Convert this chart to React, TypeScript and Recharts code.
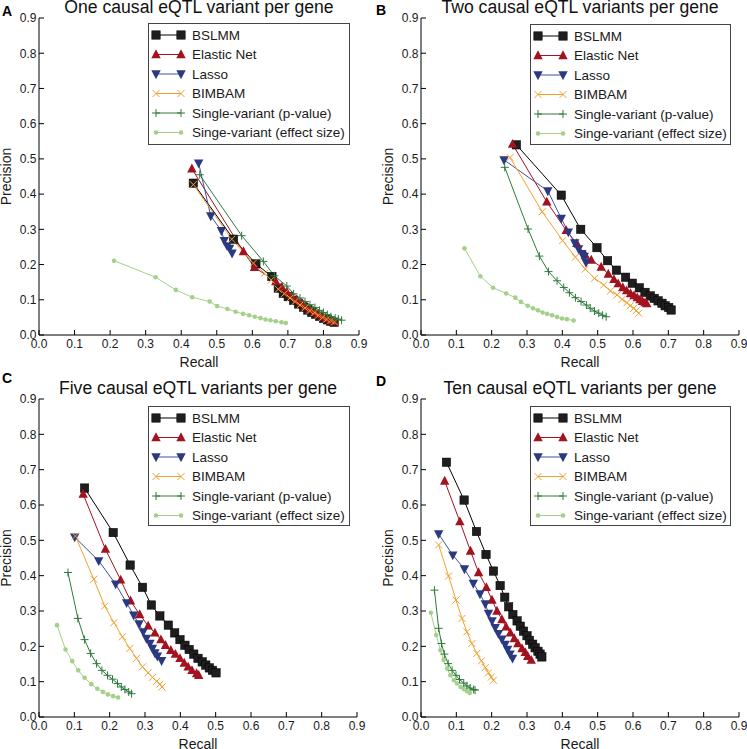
import React from 'react';
import { LineChart, Line, XAxis, YAxis } from 'recharts';

type Pt = [number, number];

// [recall, precision]
const A_BSLMM: Pt[] = [[0.434, 0.431], [0.547, 0.272], [0.610, 0.202], [0.655, 0.166], [0.673, 0.133], [0.687, 0.118], [0.701, 0.109], [0.716, 0.098], [0.730, 0.088], [0.744, 0.079], [0.756, 0.071], [0.767, 0.064], [0.778, 0.059], [0.789, 0.053], [0.800, 0.047], [0.811, 0.043], [0.821, 0.039], [0.830, 0.036]];
const A_ENET: Pt[] = [[0.430, 0.472], [0.575, 0.237], [0.606, 0.192], [0.666, 0.152], [0.683, 0.136], [0.697, 0.123], [0.711, 0.111], [0.725, 0.100], [0.739, 0.090], [0.750, 0.081], [0.762, 0.073], [0.775, 0.065], [0.786, 0.059], [0.797, 0.052], [0.809, 0.046], [0.821, 0.042], [0.830, 0.038]];
const A_LASSO: Pt[] = [[0.449, 0.488], [0.483, 0.338], [0.513, 0.296], [0.521, 0.268], [0.529, 0.253], [0.536, 0.246], [0.543, 0.232]];
const A_BIMBAM: Pt[] = [[0.434, 0.427], [0.542, 0.272], [0.603, 0.204], [0.634, 0.175], [0.653, 0.156], [0.673, 0.130], [0.690, 0.117], [0.706, 0.105], [0.720, 0.095], [0.734, 0.085], [0.748, 0.077], [0.762, 0.069], [0.775, 0.063], [0.786, 0.056], [0.798, 0.050], [0.809, 0.045], [0.821, 0.041], [0.831, 0.037]];
const A_PVAL: Pt[] = [[0.452, 0.455], [0.570, 0.282], [0.631, 0.209], [0.662, 0.168], [0.697, 0.139], [0.716, 0.117], [0.734, 0.105], [0.748, 0.095], [0.762, 0.086], [0.776, 0.078], [0.789, 0.070], [0.800, 0.064], [0.811, 0.058], [0.821, 0.052], [0.833, 0.048], [0.842, 0.045], [0.851, 0.042]];
const A_EFFECT: Pt[] = [[0.211, 0.211], [0.328, 0.164], [0.385, 0.128], [0.431, 0.107], [0.480, 0.095], [0.501, 0.082], [0.530, 0.074], [0.553, 0.066], [0.574, 0.060], [0.591, 0.056], [0.607, 0.052], [0.623, 0.048], [0.637, 0.044], [0.651, 0.042], [0.666, 0.039], [0.682, 0.036], [0.694, 0.034]];

const B_BSLMM: Pt[] = [[0.270, 0.540], [0.397, 0.397], [0.452, 0.300], [0.498, 0.248], [0.528, 0.211], [0.553, 0.184], [0.579, 0.164], [0.598, 0.147], [0.618, 0.134], [0.634, 0.121], [0.649, 0.111], [0.660, 0.104], [0.671, 0.097], [0.682, 0.090], [0.691, 0.083], [0.701, 0.078], [0.708, 0.071]];
const B_ENET: Pt[] = [[0.259, 0.542], [0.356, 0.378], [0.411, 0.297], [0.441, 0.260], [0.465, 0.227], [0.482, 0.213], [0.510, 0.193], [0.530, 0.173], [0.546, 0.158], [0.558, 0.146], [0.571, 0.135], [0.582, 0.126], [0.593, 0.118], [0.603, 0.112], [0.612, 0.106], [0.620, 0.101], [0.627, 0.096], [0.634, 0.092], [0.639, 0.089]];
const B_LASSO: Pt[] = [[0.235, 0.497], [0.359, 0.409], [0.397, 0.331], [0.417, 0.292], [0.435, 0.261], [0.446, 0.244], [0.455, 0.231], [0.462, 0.223], [0.467, 0.206]];
const B_BIMBAM: Pt[] = [[0.252, 0.504], [0.343, 0.350], [0.401, 0.268], [0.437, 0.221], [0.465, 0.187], [0.491, 0.161], [0.517, 0.142], [0.536, 0.125], [0.555, 0.114], [0.569, 0.101], [0.583, 0.092], [0.592, 0.083], [0.602, 0.076], [0.609, 0.069], [0.616, 0.062]];
const B_PVAL: Pt[] = [[0.237, 0.476], [0.303, 0.301], [0.335, 0.224], [0.361, 0.180], [0.385, 0.154], [0.404, 0.135], [0.420, 0.120], [0.437, 0.106], [0.453, 0.095], [0.468, 0.085], [0.479, 0.076], [0.491, 0.068], [0.503, 0.062], [0.514, 0.056], [0.524, 0.052]];
const B_EFFECT: Pt[] = [[0.123, 0.246], [0.168, 0.167], [0.204, 0.134], [0.241, 0.118], [0.267, 0.106], [0.283, 0.094], [0.302, 0.083], [0.317, 0.076], [0.331, 0.070], [0.344, 0.064], [0.357, 0.060], [0.371, 0.056], [0.385, 0.051], [0.399, 0.047], [0.413, 0.045], [0.432, 0.041]];

const C_BSLMM: Pt[] = [[0.129, 0.648], [0.210, 0.522], [0.258, 0.430], [0.293, 0.367], [0.318, 0.317], [0.342, 0.286], [0.366, 0.260], [0.384, 0.238], [0.399, 0.219], [0.413, 0.203], [0.425, 0.191], [0.438, 0.178], [0.450, 0.166], [0.462, 0.156], [0.472, 0.147], [0.482, 0.139], [0.491, 0.132], [0.501, 0.125]];
const C_ENET: Pt[] = [[0.125, 0.631], [0.188, 0.475], [0.231, 0.388], [0.259, 0.329], [0.285, 0.290], [0.309, 0.258], [0.328, 0.238], [0.345, 0.219], [0.358, 0.203], [0.373, 0.189], [0.386, 0.178], [0.399, 0.166], [0.411, 0.153], [0.422, 0.142], [0.433, 0.132], [0.446, 0.123], [0.452, 0.118]];
const C_LASSO: Pt[] = [[0.101, 0.509], [0.169, 0.442], [0.217, 0.376], [0.248, 0.323], [0.268, 0.288], [0.283, 0.263], [0.295, 0.241], [0.304, 0.222], [0.314, 0.208], [0.321, 0.194], [0.328, 0.181], [0.335, 0.172], [0.347, 0.159]];
const C_BIMBAM: Pt[] = [[0.103, 0.512], [0.155, 0.390], [0.186, 0.314], [0.212, 0.267], [0.236, 0.227], [0.257, 0.194], [0.276, 0.166], [0.293, 0.142], [0.309, 0.125], [0.321, 0.112], [0.333, 0.101], [0.342, 0.093], [0.348, 0.085]];
const C_PVAL: Pt[] = [[0.082, 0.409], [0.110, 0.279], [0.129, 0.219], [0.146, 0.180], [0.163, 0.151], [0.178, 0.132], [0.194, 0.118], [0.208, 0.107], [0.222, 0.095], [0.233, 0.085], [0.243, 0.078], [0.254, 0.071], [0.262, 0.066]];
const C_EFFECT: Pt[] = [[0.051, 0.260], [0.075, 0.191], [0.094, 0.158], [0.111, 0.132], [0.129, 0.111], [0.148, 0.093], [0.165, 0.080], [0.181, 0.071], [0.195, 0.064], [0.210, 0.059], [0.224, 0.055]];

const D_BSLMM: Pt[] = [[0.072, 0.721], [0.122, 0.614], [0.157, 0.525], [0.184, 0.460], [0.205, 0.413], [0.224, 0.372], [0.237, 0.339], [0.248, 0.312], [0.260, 0.290], [0.272, 0.272], [0.281, 0.257], [0.290, 0.243], [0.300, 0.230], [0.307, 0.217], [0.316, 0.206], [0.323, 0.196], [0.331, 0.186], [0.337, 0.178], [0.342, 0.170]];
const D_ENET: Pt[] = [[0.067, 0.668], [0.110, 0.553], [0.140, 0.470], [0.163, 0.409], [0.185, 0.367], [0.201, 0.331], [0.215, 0.300], [0.229, 0.276], [0.241, 0.255], [0.253, 0.238], [0.264, 0.222], [0.274, 0.208], [0.286, 0.194], [0.295, 0.183], [0.302, 0.172], [0.312, 0.161]];
const D_LASSO: Pt[] = [[0.050, 0.518], [0.090, 0.458], [0.123, 0.419], [0.148, 0.378], [0.167, 0.348], [0.182, 0.320], [0.191, 0.293], [0.201, 0.272], [0.210, 0.253], [0.219, 0.236], [0.229, 0.220], [0.238, 0.205], [0.245, 0.191], [0.252, 0.178], [0.259, 0.166]];
const D_BIMBAM: Pt[] = [[0.050, 0.487], [0.078, 0.399], [0.099, 0.331], [0.116, 0.279], [0.130, 0.241], [0.144, 0.208], [0.158, 0.180], [0.171, 0.159], [0.182, 0.140], [0.191, 0.125], [0.199, 0.113], [0.205, 0.104]];
const D_PVAL: Pt[] = [[0.038, 0.359], [0.050, 0.251], [0.058, 0.208], [0.066, 0.178], [0.077, 0.151], [0.088, 0.132], [0.099, 0.118], [0.109, 0.106], [0.121, 0.096], [0.130, 0.088], [0.139, 0.082], [0.149, 0.078], [0.153, 0.076]];
const D_EFFECT: Pt[] = [[0.028, 0.295], [0.043, 0.232], [0.055, 0.189], [0.064, 0.161], [0.074, 0.137], [0.083, 0.118], [0.093, 0.104], [0.102, 0.095], [0.112, 0.085], [0.121, 0.079], [0.130, 0.073], [0.138, 0.068]];

const TICKS = [0, 0.1, 0.2, 0.3, 0.4, 0.5, 0.6, 0.7, 0.8, 0.9];

const FONT = '"Liberation Sans", Arial, Helvetica, sans-serif';
const TICK_LEN = 5;

type MarkerKind = 'square' | 'up' | 'down' | 'x' | 'plus' | 'dot';

const SERIES: { name: string; color: string; fill: string; marker: MarkerKind }[] = [
  { name: 'BSLMM', color: '#000000', fill: '#1e1e1e', marker: 'square' },
  { name: 'Elastic Net', color: '#a3121f', fill: '#a3121f', marker: 'up' },
  { name: 'Lasso', color: '#41509a', fill: '#2b3a80', marker: 'down' },
  { name: 'BIMBAM', color: '#f2a12e', fill: '#f2a12e', marker: 'x' },
  { name: 'Single-variant (p-value)', color: '#2e7b3b', fill: '#2e7b3b', marker: 'plus' },
  { name: 'Singe-variant (effect size)', color: '#a5d08a', fill: '#a5d08a', marker: 'dot' },
];

const PANELS = [
  {
    letter: 'A', title: 'One causal eQTL variant per gene',
    left: 0, top: 0, width: 373, height: 370, yAxisW: 39, mRight: 14, mTop: 18, xAxisH: 35,
    letterX: 2, letterY: 16, legend: { left: 148, top: 23, width: 202, height: 122 },
    data: [A_BSLMM, A_ENET, A_LASSO, A_BIMBAM, A_PVAL, A_EFFECT],
  },
  {
    letter: 'B', title: 'Two causal eQTL variants per gene',
    left: 373, top: 0, width: 374, height: 370, yAxisW: 48, mRight: 8, mTop: 18, xAxisH: 35,
    letterX: 3, letterY: 15, legend: { left: 157, top: 24, width: 201, height: 121 },
    data: [B_BSLMM, B_ENET, B_LASSO, B_BIMBAM, B_PVAL, B_EFFECT],
  },
  {
    letter: 'C', title: 'Five causal eQTL variants per gene',
    left: 0, top: 370, width: 373, height: 379, yAxisW: 39, mRight: 16, mTop: 29, xAxisH: 32,
    letterX: 2, letterY: 13, legend: { left: 148, top: 36, width: 202, height: 120 },
    data: [C_BSLMM, C_ENET, C_LASSO, C_BIMBAM, C_PVAL, C_EFFECT],
  },
  {
    letter: 'D', title: 'Ten causal eQTL variants per gene',
    left: 373, top: 370, width: 374, height: 379, yAxisW: 48, mRight: 8, mTop: 29, xAxisH: 32,
    letterX: 3, letterY: 16, legend: { left: 157, top: 36, width: 201, height: 120 },
    data: [D_BSLMM, D_ENET, D_LASSO, D_BIMBAM, D_PVAL, D_EFFECT],
  },
];

const Marker = ({ cx, cy, kind, color, fill }: any) => {
  switch (kind) {
    case 'square':
      return <rect x={cx - 4.2} y={cy - 4.2} width={8.4} height={8.4} fill={fill} stroke="#000" strokeWidth={0.5} />;
    case 'up':
      return <polygon points={`${cx},${cy - 5.2} ${cx - 4.7},${cy + 3.7} ${cx + 4.7},${cy + 3.7}`} fill={fill} />;
    case 'down':
      return <polygon points={`${cx},${cy + 5.2} ${cx - 4.7},${cy - 3.7} ${cx + 4.7},${cy - 3.7}`} fill={fill} />;
    case 'x':
      return <path d={`M${cx - 3.5},${cy - 3.5}L${cx + 3.5},${cy + 3.5}M${cx - 3.5},${cy + 3.5}L${cx + 3.5},${cy - 3.5}`} stroke={color} strokeWidth={1} fill="none" />;
    case 'plus':
      return <path d={`M${cx - 4},${cy}L${cx + 4},${cy}M${cx},${cy - 4}L${cx},${cy + 4}`} stroke={color} strokeWidth={1} fill="none" />;
    default:
      return <circle cx={cx} cy={cy} r={2.3} fill={fill} />;
  }
};

const toPoints = (pts: Pt[]) => pts.map(([x, y]) => ({ x, y }));

const LegendBox = ({ box }: any) => (
  <div
    style={{
      position: 'absolute', left: box.left, top: box.top, width: box.width, height: box.height,
      border: '1px solid #444', background: '#fff', boxSizing: 'border-box',
    }}
  >
    <svg width={box.width - 2} height={box.height - 2} style={{ display: 'block' }}>
      {SERIES.map((s, i) => {
        const cy = 11 + i * 19.5;
        return (
          <g key={s.name}>
            <line x1={7} y1={cy} x2={32} y2={cy} stroke={s.color} strokeWidth={1} />
            <Marker cx={7} cy={cy} kind={s.marker} color={s.color} fill={s.fill} />
            <Marker cx={32} cy={cy} kind={s.marker} color={s.color} fill={s.fill} />
            <text x={43} y={cy} dy="0.36em" fontSize={13.5} fontFamily={FONT} fill="#1a1a1a">{s.name}</text>
          </g>
        );
      })}
    </svg>
  </div>
);

const Panel = ({ p }: any) => {
  const plotLeft = p.yAxisW;
  const plotRight = p.width - p.mRight;
  const plotBottom = p.height - p.xAxisH;
  const plotMidX = (plotLeft + plotRight) / 2;
  const plotMidY = (p.mTop + plotBottom) / 2;

  const bottomTick = ({ x, y, payload }: any) => (
    <g>
      <line x1={x} y1={y} x2={x} y2={y - TICK_LEN} stroke="#000" />
      <text x={x} y={y + 13.3} textAnchor="middle" fontSize={12} fontFamily={FONT} fill="#1a1a1a">
        {Number(payload.value).toFixed(1)}
      </text>
    </g>
  );
  const leftTick = ({ x, y, payload }: any) => (
    <g>
      <line x1={x} y1={y} x2={x + TICK_LEN} y2={y} stroke="#000" />
      <text x={x - 2.6} y={y} dy="0.36em" textAnchor="end" fontSize={12} fontFamily={FONT} fill="#1a1a1a">
        {Number(payload.value).toFixed(1)}
      </text>
    </g>
  );
  const topTick = ({ x, y }: any) => <line x1={x} y1={y} x2={x} y2={y + TICK_LEN} stroke="#000" />;
  const rightTick = ({ x, y }: any) => <line x1={x} y1={y} x2={x - TICK_LEN} y2={y} stroke="#000" />;

  // axis title, panel title and panel letter all hang off the bottom axis label
  const bottomLabel = () => (
    <g>
      <text x={plotMidX} y={plotBottom + 31.5} textAnchor="middle" fontSize={14} fontFamily={FONT} fill="#1a1a1a">Recall</text>
      <text x={plotMidX} y={p.mTop - 5} textAnchor="middle" fontSize={17.6} fontFamily={FONT} fill="#111">{p.title}</text>
      <text x={p.letterX} y={p.letterY} fontSize={14} fontWeight="bold" fontFamily={FONT} fill="#000">{p.letter}</text>
    </g>
  );

  return (
    <div style={{ position: 'absolute', left: p.left, top: p.top, width: p.width, height: p.height }}>
      <LineChart width={p.width} height={p.height} margin={{ top: p.mTop, right: p.mRight, bottom: 0, left: 0 }}>
        <XAxis
          xAxisId="b" type="number" dataKey="x" orientation="bottom" domain={[0, 0.9]} ticks={TICKS}
          allowDataOverflow interval={0} height={p.xAxisH} tickSize={0} tickMargin={0}
          tickLine={false} axisLine={{ stroke: '#000' }} tick={bottomTick}
          label={{ content: bottomLabel }}
        />
        <XAxis
          xAxisId="t" type="number" dataKey="x" orientation="top" domain={[0, 0.9]} ticks={TICKS}
          allowDataOverflow interval={0} height={0} tickSize={0} tickMargin={0}
          tickLine={false} axisLine={{ stroke: '#000' }} tick={topTick}
        />
        <YAxis
          yAxisId="l" type="number" orientation="left" domain={[0, 0.9]} ticks={TICKS}
          allowDataOverflow interval={0} width={p.yAxisW} tickSize={0} tickMargin={0}
          tickLine={false} axisLine={{ stroke: '#000' }} tick={leftTick}
          label={{
            content: () => (
              <text
                x={plotLeft - 28} y={plotMidY} textAnchor="middle" fontSize={14} fontFamily={FONT} fill="#1a1a1a"
                transform={`rotate(-90 ${plotLeft - 28} ${plotMidY})`}
              >
                Precision
              </text>
            ),
          }}
        />
        <YAxis
          yAxisId="r" type="number" orientation="right" domain={[0, 0.9]} ticks={TICKS}
          allowDataOverflow interval={0} width={0} tickSize={0} tickMargin={0}
          tickLine={false} axisLine={{ stroke: '#000' }} tick={rightTick}
        />
        {SERIES.map((s, i) => (
          <Line
            key={s.name}
            xAxisId="b"
            yAxisId="l"
            data={toPoints(p.data[i])}
            dataKey="y"
            type="linear"
            stroke={s.color}
            strokeWidth={1}
            isAnimationActive={false}
            activeDot={false}
            dot={(dp: any) => (
              <Marker key={`${s.name}-${dp.index}`} cx={dp.cx} cy={dp.cy} kind={s.marker} color={s.color} fill={s.fill} />
            )}
          />
        ))}
      </LineChart>
      <LegendBox box={p.legend} />
    </div>
  );
}

export default function App() {
  return (
    <div style={{ position: 'absolute', left: 0, top: 0, width: 747, height: 749, background: '#fff', fontFamily: FONT }}>
      {PANELS.map((p) => (
        <Panel key={p.letter} p={p} />
      ))}
    </div>
  );
}
